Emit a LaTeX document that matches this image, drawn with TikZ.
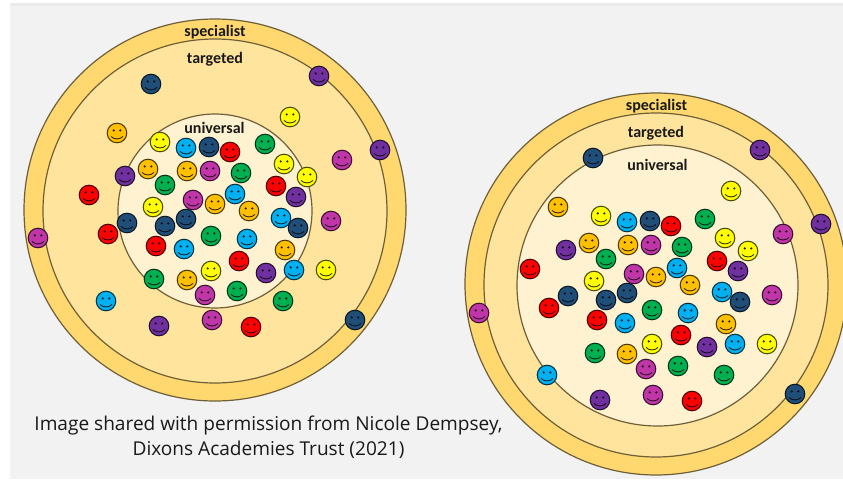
\documentclass[tikz,border=0pt]{standalone}
\usepackage{fontspec}
\setmainfont{Carlito}
\newfontfamily\capfont{Open Sans}
\definecolor{bgc}{HTML}{F2F2F2}
\definecolor{ringA}{HTML}{FFD970}
\definecolor{ringB}{HTML}{FFE49E}
\definecolor{ringC}{HTML}{FFF2D0}
\definecolor{edgec}{HTML}{6E5F38}
\definecolor{yel}{HTML}{FFFF00}
\definecolor{blu}{HTML}{00B0F0}
\definecolor{nav}{HTML}{1F4E79}
\definecolor{red}{HTML}{FF0000}
\definecolor{gre}{HTML}{00B050}
\definecolor{ora}{HTML}{FFC000}
\definecolor{mag}{HTML}{C036A8}
\definecolor{pur}{HTML}{7030A0}
\tikzset{
  x=0.75pt,y=-0.75pt,
  ring/.style={draw=edgec,line width=0.9pt},
  lab/.style={font=\bfseries\fontsize{12}{14}\selectfont,text=black!90,inner sep=0pt},
  captext/.style={font=\capfont\fontsize{14.3}{19}\selectfont,text=black!90,align=center,inner sep=0pt}
}
\newcommand{\smiley}[3]{%
  \fill[#3,draw=black!70!#3,line width=0.8pt] (#1,#2) circle[radius=9.8];
  \fill[black!85!#3] (#1-3.3,#2-2.6) circle[radius=1.2] (#1+3.3,#2-2.6) circle[radius=1.2];
  \draw[black!85!#3,line width=0.6pt] (#1-6,#2+3.4) .. controls (#1-3,#2+6.8) and (#1+3,#2+6.8) .. (#1+6,#2+3.4);
}
\begin{document}
\begin{tikzpicture}
\useasboundingbox (0,0) rectangle (843,479);
\fill[white] (0,0) rectangle (843,479);
\fill[bgc] (10,4) rectangle (843,479);
\fill[black!8] (10,3) rectangle (843,6);
% left target
\filldraw[ring,fill=ringA] (215,210) circle[radius=191];
\filldraw[ring,fill=ringB] (215,211) circle[radius=172];
\filldraw[ring,fill=ringC] (215,211) circle[radius=97];
% right target
\filldraw[ring,fill=ringA] (656,284) circle[radius=191];
\filldraw[ring,fill=ringB] (656,285) circle[radius=172];
\filldraw[ring,fill=ringC] (657.5,285.5) circle[radius=140.5];
% labels
\node[lab] (ls) at (215,32) {specialist};
\node[lab] (lt) at (215,59) {targeted};
\node[lab] (lu) at (214.5,127.5) {universal};
\node[lab] (rs) at (656.5,106) {specialist};
\node[lab] (rt) at (656,133) {targeted};
\node[lab] (ru) at (657.5,165) {universal};
\node[captext] (caption) at (268.5,437) {Image shared with permission from Nicole Dempsey,\\Dixons Academies Trust (2021)};
% left faces
\foreach \x/\y/\c in {
151/84/nav,319/76/pur,380/150/pur,290/117/yel,117/133/ora,342/160/mag,89/195/red,38/238/mag,
160/142/yel,186/148/blu,209/147/nav,230/152/red,265/144/gre,284/164/yel,307/177/yel,
125/176/pur,148/169/ora,187/171/ora,210/171/mag,241/173/gre,165/185/gre,276/186/red,296/197/pur,
235/194/blu,193/200/mag,215/204/ora,249/211/ora,153/207/yel,186/219/nav,281/218/blu,298/228/nav,
331/221/mag,127/223/nav,165/226/nav,108/234/red,211/236/gre,247/239/blu,156/246/red,184/249/blu,
285/250/ora,239/261/red,211/271/yel,266/273/pur,294/270/blu,326/270/yel,154/279/gre,187/280/ora,
205/295/mag,237/291/gre,283/301/gre,106/301/blu,159/326/pur,212/320/mag,251/327/red,355/320/nav}
  {\smiley{\x}{\y}{\c}}
% right faces
\foreach \x/\y/\c in {
593/158/nav,760/150/pur,731/191/yel,558/207/ora,601/216/yel,627/222/blu,650/221/nav,671/226/red,
705/219/gre,725/238/yel,748/251/yel,783/234/mag,821/224/pur,566/250/pur,589/243/ora,628/245/ora,
651/245/mag,682/247/gre,606/259/gre,530/269/red,717/261/red,738/271/pur,677/268/blu,634/274/mag,
656/277/ora,594/281/yel,690/285/ora,722/292/blu,627/293/nav,606/300/nav,568/296/nav,549/308/red,
740/302/nav,772/295/mag,479/313/mag,652/310/gre,688/313/blu,597/320/red,625/323/blu,726/324/ora,
681/335/red,652/344/yel,707/347/pur,735/344/blu,767/344/yel,595/353/gre,627/354/ora,646/369/mag,
678/366/gre,724/375/gre,547/375/blu,600/400/pur,653/395/mag,692/401/red,795/394/nav}
  {\smiley{\x}{\y}{\c}}
\end{tikzpicture}
\end{document}
